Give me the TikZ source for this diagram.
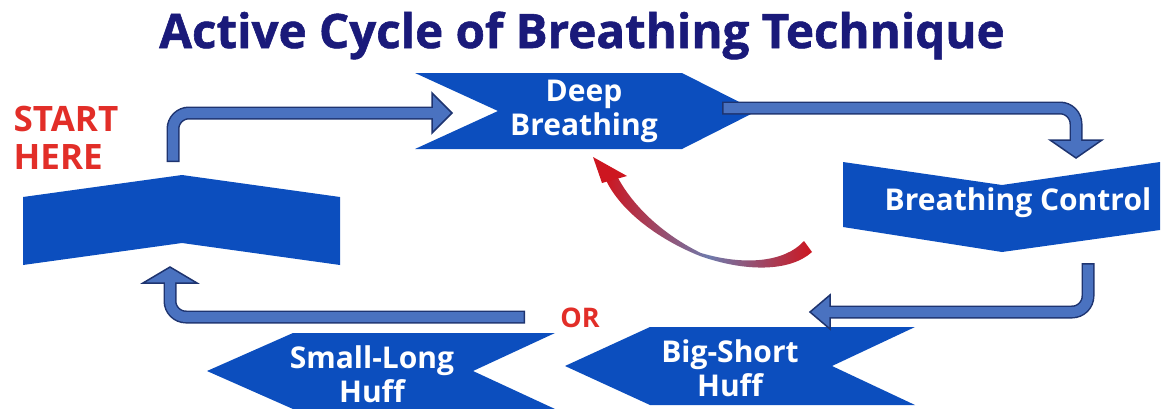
\documentclass[tikz,border=0pt]{standalone}
\usepackage{fontspec}
\setsansfont{Open Sans}
\newfontfamily\titlefont{Open Sans}[BoldFeatures={FakeBold=1.2}]
\usepackage{tikz}
\usetikzlibrary{positioning}
\definecolor{titleblue}{RGB}{26,26,122}
\definecolor{boxblue}{RGB}{12,78,190}
\definecolor{pipeblue}{RGB}{74,114,192}
\definecolor{pipeedge}{RGB}{30,52,112}
\definecolor{startred}{RGB}{226,46,40}
\definecolor{arrowred}{RGB}{205,22,32}
\definecolor{fadeblue}{RGB}{110,122,172}
\tikzset{
	box/.style={fill=boxblue},
	boxtext/.style={text=white, font=\sffamily\bfseries\fontsize{30}{34}\selectfont, align=center, inner sep=0pt},
	redtext/.style={text=startred, font=\sffamily\bfseries\fontsize{35}{38}\selectfont, align=left, inner sep=0pt},
	pipeout/.style={draw=pipeedge, line width=13pt, rounded corners=16pt},
	pipein/.style={draw=pipeblue, line width=10pt, rounded corners=16pt, shorten <=1.5pt, shorten >=-4pt},
	pipehead/.style={fill=pipeblue, draw=pipeedge, line width=1.5pt, line join=miter},
}

\begin{document}
\begin{tikzpicture}[x=1pt, y=-1pt]
			\useasboundingbox (0,0) rectangle (1163,408);
			\node [text=titleblue, font=\titlefont\bfseries\fontsize{47.5}{50}\selectfont, anchor=base] (title) at (582, 48) {Active Cycle of Breathing Technique};
			\fill [box] (23,197) -- (182,175) -- (340,197) -- (340,265) -- (182,243) -- (23,265) -- cycle;
			\fill [box] (415,73) -- (682,73) -- (757,111) -- (682,149) -- (415,149) -- (498,111) -- cycle;
			\fill [box] (843,162) -- (1002,185) -- (1160,162) -- (1160,230) -- (1002,252) -- (843,227) -- cycle;
			\fill [box] (565,366) -- (650,327) -- (915,327) -- (832,366) -- (915,405) -- (650,405) -- cycle;
			\fill [box] (207,371) -- (293,333) -- (555,333) -- (473,371) -- (555,409) -- (293,409) -- cycle;
			\node [redtext] (start) at (66, 138) {START\\HERE};
			\node [boxtext] (1) at (584, 111) {Deep\\Breathing};
			\node [boxtext] (2) at (1018, 203) {Breathing Control};
			\node [boxtext] (3) at (730, 368) {Big-Short\\Huff};
			\node [boxtext] (4) at (372, 374) {Small-Long\\Huff};
			\node [text=startred, font=\sffamily\bfseries\fontsize{27}{30}\selectfont, inner sep=0pt] (or) at (580, 318) {OR};
			\coordinate (0a) at (173, 162);
			\coordinate (1a) at (432, 113);
			\coordinate (1b) at (722, 108);
			\coordinate (2a) at (1076, 140);
			\coordinate (2b) at (1088, 263);
			\coordinate (3a) at (830, 312);
			\coordinate (4a) at (525, 317);
			\coordinate (0b) at (170, 283);
			\draw [pipeout] (0a) |- (1a);
			\filldraw [pipehead] (432,93) -- (452,113) -- (432,133) -- cycle;
			\draw [pipein] (0a) |- (1a);
			\draw [pipeout] (1b) -| (2a);
			\filldraw [pipehead] (1050,140) -- (1076,158) -- (1102,140) -- cycle;
			\draw [pipein] (1b) -| (2a);
			\draw [pipeout] (2b) |- (3a);
			\filldraw [pipehead] (830,295) -- (810,312) -- (830,329) -- cycle;
			\draw [pipein] (2b) |- (3a);
			\draw [pipeout] (4a) -| (0b);
			\filldraw [pipehead] (143,283) -- (170,267) -- (197,283) -- cycle;
			\draw [pipein] (4a) -| (0b);
			\shade [left color=arrowred, right color=arrowred, middle color=fadeblue] (812,252) .. controls (790,272) and (745,272) .. (700,256) .. controls (655,238) and (618,208) .. (605,178) -- (617,176) .. controls (632,205) and (662,234) .. (701,253) .. controls (745,266) and (785,262) .. (804,241) -- cycle;
			\fill [arrowred] (593,157) -- (627,176) -- (602,183) -- cycle;
			\end{tikzpicture}
\end{document}
